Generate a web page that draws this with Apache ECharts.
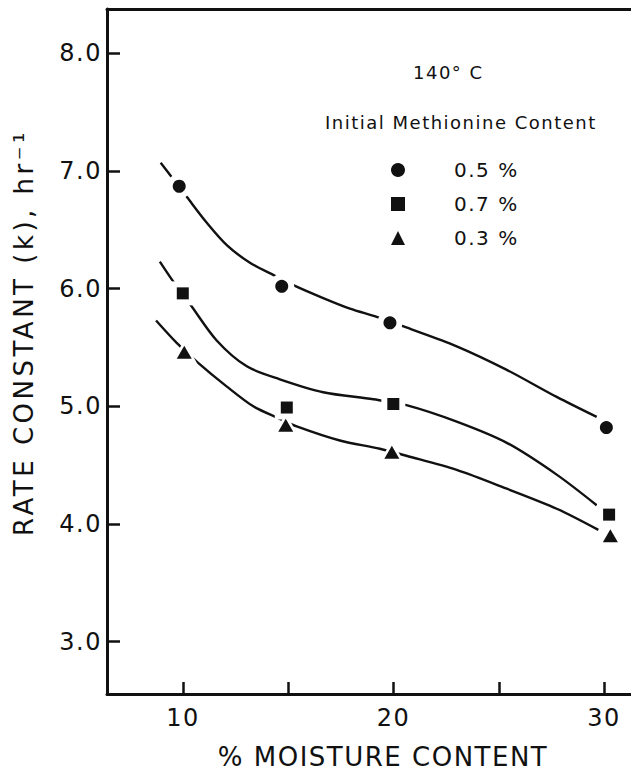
<!DOCTYPE html>
<html>
<head>
<meta charset="utf-8">
<script src="https://cdn.jsdelivr.net/npm/echarts@6/dist/echarts.min.js"></script>
<style>
  html, body { margin: 0; padding: 0; background: #fff; }
  #chart { width: 631px; height: 771px; }
  /* the original lettering is widely tracked */
  #chart text { letter-spacing: 1.5px; }
</style>
</head>
<body>
<div id="chart"></div>
<script>
// series names (legend order)
const seriesNames = ["0.5 %", "0.7 %", "0.3 %"];
const seriesSymbols = ["circle", "rect", "triangle"];

// measured points [% moisture, k]
const pts05 = [[9.82, 6.87], [14.69, 6.02], [19.83, 5.71], [30.11, 4.82]];
const pts07 = [[9.99, 5.96], [14.93, 4.99], [19.99, 5.02], [30.24, 4.08]];
const pts03 = [[10.06, 5.46], [14.88, 4.84], [19.92, 4.61], [30.3, 3.9]];

// hand-drawn fitted curves
const curve05 = [[8.94, 7.07], [10.18, 6.78], [11.13, 6.56], [12.08, 6.37], [13.18, 6.22],
  [14.37, 6.11], [15.24, 6.03], [16.66, 5.92], [17.93, 5.83], [19.2, 5.76], [20.61, 5.67],
  [23.0, 5.51], [25.38, 5.31], [27.75, 5.08], [29.65, 4.91]];
const curve07 = [[8.9, 6.23], [9.54, 6.06], [10.33, 5.87], [11.6, 5.56], [13.03, 5.34],
  [14.6, 5.23], [16.66, 5.12], [19.04, 5.06], [20.61, 5.01], [23.0, 4.87], [25.38, 4.69],
  [27.75, 4.42], [29.65, 4.16]];
const curve03 = [[8.72, 5.73], [9.7, 5.54], [10.72, 5.37], [12.07, 5.17], [13.34, 5.0],
  [14.53, 4.9], [15.4, 4.83], [17.45, 4.71], [19.35, 4.64], [20.61, 4.58], [23.0, 4.46],
  [25.38, 4.3], [27.75, 4.13], [29.73, 3.95]];

// axis ticks
const xTicks = [10, 15, 20, 25, 30];
const xLabels = [10, 20, 30];
const yTicks = [3, 4, 5, 6, 7, 8];

const ink = "#111";
const font = "DejaVu Sans";

const points = [pts05, pts07, pts03];
const curves = [curve05, curve07, curve03];
const symSize = [13, 12, [15, 13]];
const haloSize = [25, 24, [27, 25]];

const chart = echarts.init(document.getElementById("chart"), null, { renderer: "svg" });

const series = [];
curves.forEach((c, i) => {
  series.push({
    name: "curve " + seriesNames[i],
    type: "line",
    data: c,
    smooth: 0.3,
    showSymbol: false,
    silent: true,
    z: 2,
    lineStyle: { color: ink, width: 2.4 },
  });
});
// white halos make the gaps around the markers
points.forEach((p, i) => {
  series.push({
    name: "halo " + seriesNames[i],
    type: "scatter",
    data: p,
    symbol: seriesSymbols[i],
    symbolSize: haloSize[i],
    silent: true,
    z: 3,
    itemStyle: { color: "#fff", opacity: 1 },
  });
});
points.forEach((p, i) => {
  series.push({
    name: seriesNames[i],
    type: "scatter",
    data: p,
    symbol: seriesSymbols[i],
    symbolSize: symSize[i],
    z: 4,
    itemStyle: { color: ink, opacity: 1 },
  });
});

// y title is spaced out even wider than the rest
chart.on("finished", () => {
  document.querySelectorAll("#chart text").forEach((t) => {
    if (t.textContent.indexOf("RATE") === 0) t.style.letterSpacing = "3.5px";
  });
});

chart.setOption({
  backgroundColor: "#fff",
  animation: false,
  textStyle: { fontFamily: font, color: ink },
  title: [
    {
      text: "140° C",
      left: 408,
      top: 58,
      textStyle: { fontFamily: font, fontSize: 18, fontWeight: "normal", color: ink },
    },
    {
      text: "Initial Methionine Content",
      left: 320,
      top: 108,
      textStyle: { fontFamily: font, fontSize: 18, fontWeight: "normal", color: ink },
    },
  ],
  legend: {
    data: seriesNames,
    orient: "vertical",
    left: 386,
    top: 155,
    itemWidth: 14,
    itemHeight: 14,
    itemGap: 14,
    textStyle: { fontFamily: font, fontSize: 20, color: ink, lineHeight: 20, padding: [0, 0, 0, 44] },
  },
  grid: { left: 107, right: 0, top: 9, bottom: 77, outerBoundsMode: "none" },
  xAxis: [
    {
      type: "value",
      min: 6.39,
      max: 31.28,
      name: "% MOISTURE CONTENT",
      nameLocation: "middle",
      nameGap: 52,
      nameTextStyle: { fontFamily: font, fontSize: 26, lineHeight: 22, color: ink, padding: [0, 0, 0, 28] },
      axisLine: { onZero: false, lineStyle: { color: ink, width: 3 } },
      axisTick: { inside: true, length: 12, customValues: xTicks, lineStyle: { color: ink, width: 2.5 } },
      axisLabel: { customValues: xLabels, margin: 12, fontSize: 24, color: ink, fontFamily: font },
      splitLine: { show: false },
    },
    {
      type: "value",
      position: "top",
      min: 6.39,
      max: 31.28,
      axisLine: { onZero: false, lineStyle: { color: ink, width: 3 } },
      axisTick: { show: false },
      axisLabel: { show: false },
      splitLine: { show: false },
    },
  ],
  yAxis: {
    type: "value",
    min: 2.556,
    max: 8.376,
    name: "RATE CONSTANT (k), hr⁻¹",
    nameLocation: "middle",
    nameRotate: 90,
    nameGap: 70,
    nameTextStyle: { fontFamily: font, fontSize: 26, color: ink, padding: [0, 0, 0, 38] },
    axisLine: { onZero: false, lineStyle: { color: ink, width: 3 } },
    axisTick: { inside: true, length: 13, customValues: yTicks, lineStyle: { color: ink, width: 2.5 } },
    axisLabel: {
      customValues: yTicks,
      margin: 5,
      fontSize: 24,
      color: ink,
      fontFamily: font,
      formatter: (v) => v.toFixed(1),
    },
    splitLine: { show: false },
  },
  series: series,
});
</script>
</body>
</html>
